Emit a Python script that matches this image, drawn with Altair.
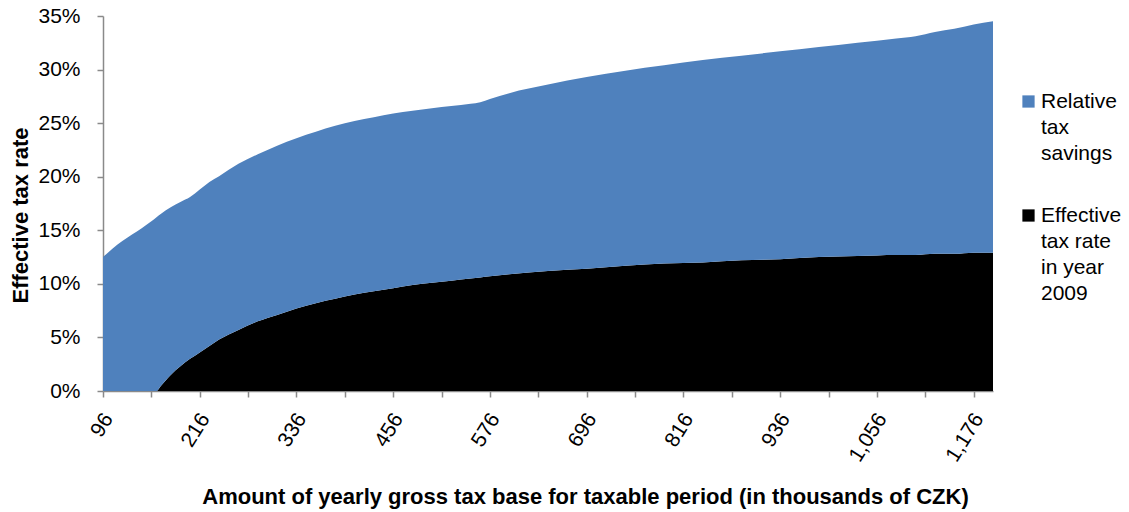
import altair as alt
import pandas as pd

# Yearly gross tax base, thousands of CZK
income = [96, 108, 120, 132, 144, 156, 162, 168, 180, 192, 204, 216, 228, 240,
          264, 288, 312, 336, 360, 384, 408, 432, 456, 480, 504, 528, 552, 564,
          576, 600, 648, 696, 744, 792, 840, 888, 936, 984, 1032, 1080, 1104,
          1128, 1152, 1176, 1200]

# Upper envelope: effective rate plus relative savings (percent)
total_rate = [12.5, 13.3, 14.0, 14.6, 15.2, 15.85, 16.2, 16.55, 17.15, 17.65,
              18.1, 18.8, 19.5, 20.05, 21.2, 22.1, 22.9, 23.6, 24.2, 24.75, 25.2,
              25.55, 25.9, 26.15, 26.4, 26.6, 26.8, 26.95, 27.25, 27.8, 28.6,
              29.3, 29.9, 30.4, 30.9, 31.3, 31.7, 32.1, 32.5, 32.9, 33.1, 33.5,
              33.8, 34.2, 34.5]

# Effective tax rate in year 2009 (percent)
effective_2009 = [0, 0, 0, 0, 0, 0, 0, 0.5, 1.5, 2.3, 3.0, 3.6, 4.2, 4.8, 5.7,
                  6.5, 7.1, 7.7, 8.2, 8.6, 9.0, 9.3, 9.6, 9.9, 10.1, 10.3, 10.5,
                  10.6, 10.7, 10.9, 11.2, 11.4, 11.7, 11.9, 12.0, 12.2, 12.3,
                  12.5, 12.6, 12.7, 12.7, 12.8, 12.8, 12.9, 12.9]

savings_lines = ["Relative", "tax", "savings"]
effective_lines = ["Effective", "tax rate", "in year", "2009"]
savings_name = " ".join(savings_lines)
effective_name = " ".join(effective_lines)

rows = []
for x, tot, eff in zip(income, total_rate, effective_2009):
    rows.append({"income": x, "series": effective_name, "rate": eff / 100, "stack": 0})
    rows.append({"income": x, "series": savings_name, "rate": (tot - eff) / 100, "stack": 1})
df = pd.DataFrame(rows)

x_ticks = list(range(96, 1177, 60))
y_ticks = [i / 100 for i in range(0, 36, 5)]

# legend entries wrap onto several lines
legend_expr = "datum.label == '{}' ? {} : {}".format(
    savings_name, str(savings_lines), str(effective_lines))

FONT = "Liberation Sans"
AXIS_GREY = "#8a8a8a"

chart = alt.Chart(df).mark_area(interpolate="monotone").encode(
    x=alt.X(
        "income:Q",
        scale=alt.Scale(domain=[96, 1200], nice=False, zero=False),
        axis=alt.Axis(
            values=x_ticks,
            labelExpr="(datum.value - 96) % 120 == 0 ? format(datum.value, ',') : ''",
            labelAngle=-58, labelAlign="right", labelBaseline="middle",
            labelPadding=18, labelOffset=5,
            title="Amount of yearly gross tax base for taxable period (in thousands of CZK)",
            titleX=482, titleY=112, titleAlign="center", titleBaseline="alphabetic",
            titleFontSize=22,
        ),
    ),
    y=alt.Y(
        "rate:Q", stack="zero",
        scale=alt.Scale(domain=[0, 0.35], nice=False),
        axis=alt.Axis(
            values=y_ticks, format=".0%", labelPadding=17,
            title="Effective tax rate",
            titleAngle=-90, titleX=-76, titleY=199, titleAlign="center",
            titleBaseline="alphabetic", titleFontSize=22,
        ),
    ),
    color=alt.Color(
        "series:N",
        scale=alt.Scale(domain=[savings_name, effective_name], range=["#4f81bd", "#000000"]),
        legend=alt.Legend(
            orient="none", legendX=915, legendY=75, title=None,
            symbolType="square", symbolSize=150, symbolStrokeWidth=0,
            labelExpr=legend_expr, labelFontSize=21, labelFont=FONT,
            labelColor="black", labelBaseline="middle", labelOffset=2,
            rowPadding=40, labelLimit=200,
        ),
    ),
    order=alt.Order("stack:Q"),
).properties(
    width=890, height=375,
    autosize=alt.AutoSizeParams(type="none"),
    padding={"left": 103, "top": 16, "right": 136, "bottom": 121},
).configure(
    style={"guide-label": {"lineHeight": 26}},
).configure_view(
    stroke=None,
).configure_axis(
    grid=False,
    domainColor=AXIS_GREY, domainWidth=1.5,
    tickColor=AXIS_GREY, tickWidth=1.5, tickSize=6,
    labelFont=FONT, labelFontSize=21, labelColor="black",
    titleFont=FONT, titleFontWeight="bold", titleColor="black",
)

chart.save("out.html", embed_options={"renderer": "svg", "actions": False})
